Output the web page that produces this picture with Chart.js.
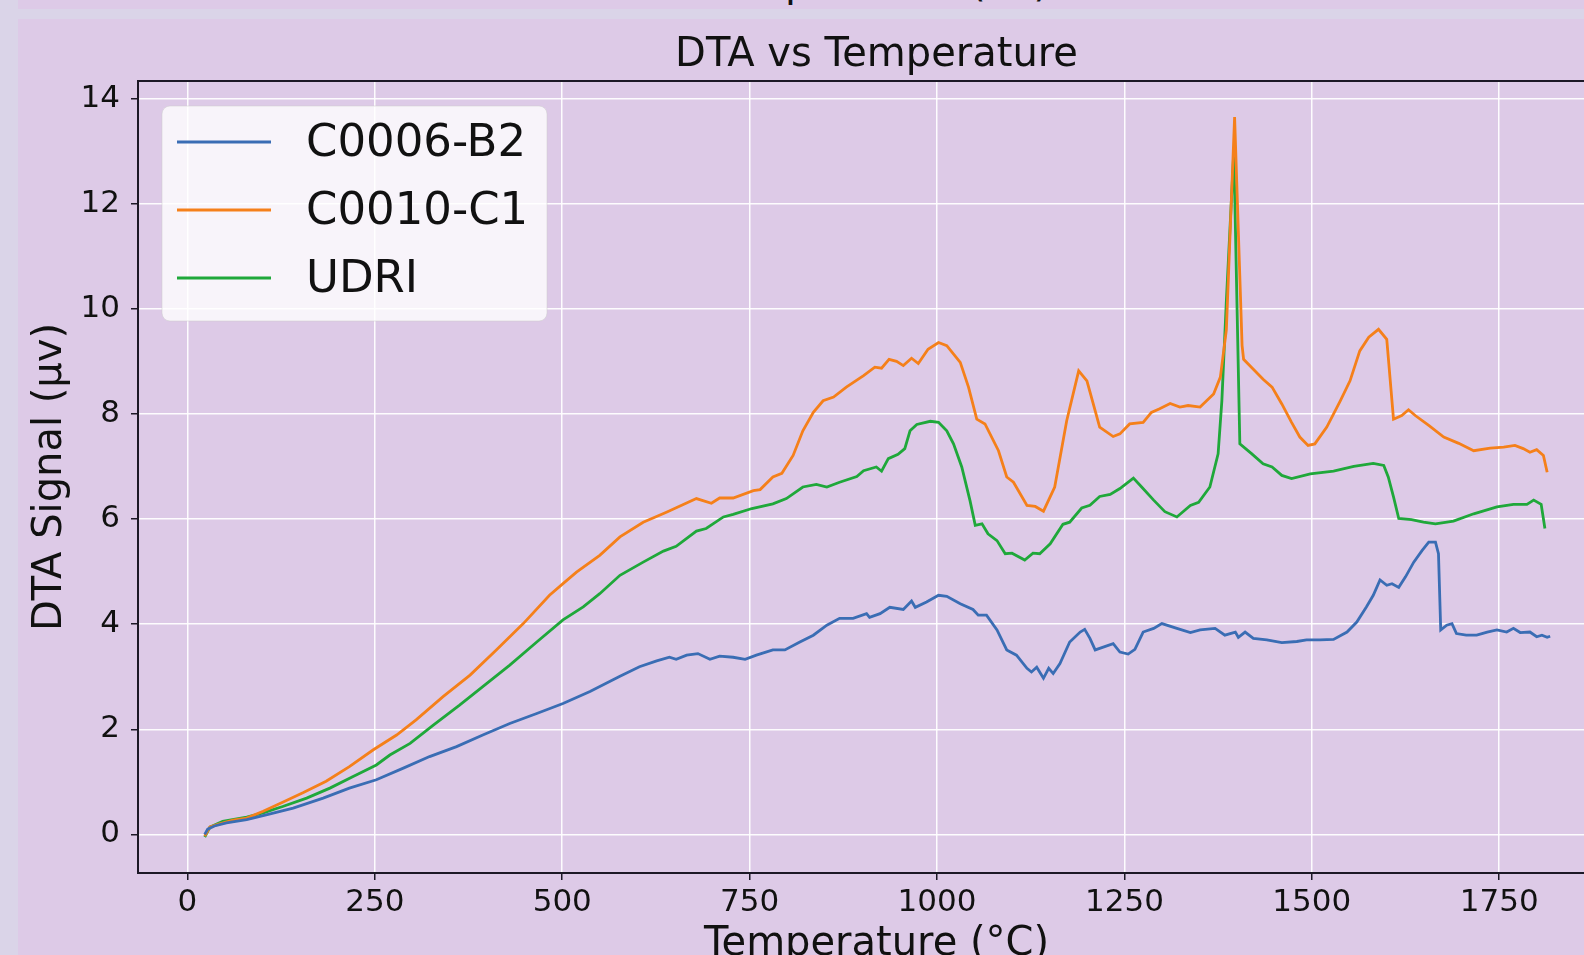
<!DOCTYPE html>
<html>
<head>
<meta charset="utf-8">
<script src="https://cdn.jsdelivr.net/npm/chart.js@4.4.0/dist/chart.umd.min.js"></script>
<style>
  html, body { margin: 0; padding: 0; }
  body {
    width: 1584px; height: 955px; overflow: hidden;
    background: #dad4e8; position: relative;
    font-family: "DejaVu Sans", sans-serif;
  }
  #prevFig {
    position: absolute; left: 18px; top: 0; width: 1566px; height: 9px;
    background: #ddcae7; overflow: hidden;
  }
  #prevFig span {
    position: absolute; left: 120px; width: 1477px; top: -38px;
    text-align: center; font-size: 40px; line-height: 40px; color: #111;
  }
  #chart {
    position: absolute; left: 18px; top: 19px;
    background: #ddcae7;
  }
</style>
</head>
<body>
<div id="prevFig"><span>Temperature (°C)</span></div>
<canvas id="chart" width="1597" height="960"></canvas>
<script>
// Данные
const seriesNames = ['C0006-B2', 'C0010-C1', 'UDRI'];
const seriesColors = ['#3a6db4', '#f5801a', '#1fa83a'];

const tempB2 = [23, 27, 36, 52, 79, 105, 141, 181, 216, 252, 288, 323, 359, 394, 430, 466, 501, 537, 577,
  603, 626, 643, 652, 666, 681, 697, 710, 728, 744, 759, 781, 797, 817, 835, 853, 870, 888, 906, 910, 924,
  937, 955, 966, 971, 986, 1002, 1013, 1031, 1048, 1055, 1066, 1080, 1093, 1106, 1120, 1126, 1133, 1142,
  1149, 1155, 1164, 1177, 1191, 1197, 1204, 1211, 1217, 1235, 1244, 1255, 1264, 1275, 1289, 1300, 1320,
  1338, 1351, 1371, 1384, 1398, 1402, 1411, 1422, 1440, 1460, 1480, 1493, 1511, 1529, 1547, 1560, 1573,
  1582, 1591, 1600, 1607, 1616, 1625, 1636, 1647, 1656, 1665, 1669, 1672, 1680, 1687, 1693, 1706, 1720,
  1734, 1747, 1760, 1769, 1778, 1791, 1800, 1807, 1814, 1818];
const dtaB2 = [0.00, 0.10, 0.16, 0.22, 0.28, 0.37, 0.50, 0.69, 0.88, 1.04, 1.26, 1.48, 1.67, 1.89, 2.11, 2.30, 2.49, 2.72, 3.01,
  3.19, 3.30, 3.37, 3.33, 3.41, 3.44, 3.33, 3.39, 3.37, 3.33, 3.41, 3.51, 3.51, 3.66, 3.79, 3.98, 4.11, 4.11, 4.20, 4.13, 4.20,
  4.32, 4.28, 4.44, 4.32, 4.42, 4.55, 4.53, 4.39, 4.28, 4.17, 4.17, 3.89, 3.51, 3.41, 3.16, 3.09, 3.18, 2.97,
  3.16, 3.06, 3.25, 3.66, 3.85, 3.90, 3.73, 3.51, 3.54, 3.63, 3.47, 3.43, 3.52, 3.85, 3.92, 4.01, 3.92,
  3.84, 3.89, 3.92, 3.79, 3.85, 3.75, 3.85, 3.73, 3.70, 3.65, 3.67, 3.70, 3.70, 3.71, 3.85, 4.04, 4.33,
  4.55, 4.84, 4.74, 4.77, 4.70, 4.90, 5.18, 5.40, 5.56, 5.56, 5.34, 3.89, 3.98, 4.01, 3.82, 3.79, 3.79,
  3.85, 3.89, 3.85, 3.92, 3.84, 3.85, 3.76, 3.79, 3.75, 3.77];

const tempC1 = [23, 30, 43, 61, 79, 101, 127, 154, 185, 216, 248, 279, 305, 341, 377, 412, 448, 483, 501, 519,
  550, 577, 608, 639, 679, 699, 710, 728, 755, 764, 781, 793, 808, 821, 835, 848, 862, 879, 902, 917, 926,
  936, 946, 955, 966, 975, 988, 1002, 1013, 1031, 1042, 1053, 1064, 1082, 1093, 1102, 1120, 1131, 1142,
  1157, 1173, 1189, 1200, 1217, 1235, 1244, 1257, 1275, 1286, 1297, 1311, 1324, 1335, 1351, 1369, 1378,
  1386, 1397, 1407, 1409, 1422, 1435, 1447, 1460, 1473, 1484, 1495, 1504, 1520, 1538, 1551, 1564, 1576,
  1589, 1600, 1609, 1620, 1629, 1638, 1656, 1676, 1696, 1716, 1738, 1756, 1771, 1782, 1791, 1800, 1809, 1814];
const dtaC1 = [-0.03, 0.14, 0.20, 0.27, 0.31, 0.44, 0.61, 0.79, 1.01, 1.29, 1.61, 1.89, 2.18, 2.62, 3.03, 3.51, 4.01, 4.55, 4.77, 4.99,
  5.31, 5.66, 5.94, 6.13, 6.39, 6.30, 6.40, 6.40, 6.54, 6.56, 6.80, 6.87, 7.21, 7.68, 8.03, 8.25, 8.32, 8.51, 8.73, 8.89, 8.87,
  9.04, 9.00, 8.92, 9.06, 8.96, 9.23, 9.36, 9.30, 8.98, 8.51, 7.90, 7.81, 7.30, 6.80, 6.70, 6.26, 6.24, 6.15,
  6.61, 7.87, 8.82, 8.63, 7.75, 7.57, 7.62, 7.81, 7.84, 8.03, 8.10, 8.20, 8.13, 8.16, 8.13, 8.38, 8.70,
  9.60, 13.65, 9.30, 9.04, 8.85, 8.66, 8.51, 8.19, 7.84, 7.56, 7.40, 7.43, 7.75, 8.25, 8.63, 9.20, 9.46,
  9.61, 9.42, 7.90, 7.97, 8.08, 7.97, 7.78, 7.56, 7.44, 7.30, 7.35, 7.37, 7.40, 7.34, 7.27, 7.32, 7.21, 6.89];

const tempUDRI = [23, 30, 47, 79, 101, 127, 159, 190, 221, 252, 270, 297, 328, 363, 399, 430, 466, 501, 528,
  550, 577, 608, 635, 652, 679, 692, 715, 728, 753, 781, 799, 821, 839, 853, 870, 893, 902, 919, 926, 935,
  948, 957, 964, 973, 991, 1002, 1013, 1022, 1033, 1044, 1051, 1060, 1068, 1080, 1091, 1100, 1117, 1128,
  1137, 1151, 1168, 1177, 1193, 1204, 1217, 1231, 1244, 1262, 1273, 1289, 1304, 1320, 1338, 1349, 1364,
  1375, 1380, 1386, 1396, 1404, 1420, 1435, 1447, 1460, 1473, 1498, 1529, 1556, 1582, 1596, 1602, 1609,
  1616, 1633, 1649, 1665, 1689, 1716, 1747, 1769, 1787, 1796, 1806, 1811];
const dtaUDRI = [-0.05, 0.14, 0.25, 0.33, 0.41, 0.53, 0.69, 0.88, 1.10, 1.32, 1.51, 1.73, 2.08, 2.46, 2.87, 3.22, 3.66, 4.08, 4.33,
  4.58, 4.93, 5.18, 5.39, 5.48, 5.77, 5.82, 6.04, 6.09, 6.20, 6.29, 6.39, 6.61, 6.66, 6.61, 6.70, 6.81, 6.92, 6.99, 6.91, 7.15,
  7.23, 7.34, 7.68, 7.80, 7.86, 7.84, 7.68, 7.43, 6.99, 6.35, 5.88, 5.91, 5.72, 5.59, 5.34, 5.35, 5.22, 5.35,
  5.34, 5.53, 5.90, 5.94, 6.21, 6.26, 6.43, 6.47, 6.58, 6.78, 6.61, 6.36, 6.14, 6.04, 6.26, 6.32, 6.61,
  7.24, 8.25, 10.15, 13.00, 7.43, 7.24, 7.05, 6.99, 6.83, 6.77, 6.86, 6.91, 7.00, 7.06, 7.02, 6.80, 6.42,
  6.01, 5.99, 5.94, 5.91, 5.96, 6.10, 6.23, 6.28, 6.28, 6.36, 6.28, 5.82];

const xTicks = [0, 250, 500, 750, 1000, 1250, 1500, 1750];
const yTicks = [0, 2, 4, 6, 8, 10, 12, 14];

const toPoints = (xs, ys) => xs.map((x, i) => ({ x: x, y: ys[i] }));

// Рамка сверху (как у matplotlib)
const topSpine = {
  id: 'topSpine',
  afterDatasetsDraw(chart) {
    const { ctx, chartArea } = chart;
    ctx.save();
    ctx.strokeStyle = '#1c1826';
    ctx.lineWidth = 2;
    ctx.beginPath();
    ctx.moveTo(chartArea.left, chartArea.top);
    ctx.lineTo(chartArea.right, chartArea.top);
    ctx.stroke();
    ctx.restore();
  }
};

// Легенда в рамке внутри области графика
const boxLegend = {
  id: 'boxLegend',
  afterDatasetsDraw(chart, args, opts) {
    const { ctx, chartArea } = chart;
    const x = chartArea.left + opts.offsetX;
    const y = chartArea.top + opts.offsetY;
    ctx.save();
    ctx.beginPath();
    ctx.roundRect(x, y, opts.width, opts.height, 8);
    ctx.fillStyle = 'rgba(255,255,255,0.8)';
    ctx.fill();
    ctx.strokeStyle = 'rgba(204,204,204,0.5)';
    ctx.lineWidth = 1;
    ctx.stroke();
    ctx.font = opts.fontSize + 'px "DejaVu Sans"';
    ctx.textBaseline = 'middle';
    ctx.fillStyle = '#111';
    chart.data.datasets.forEach((ds, i) => {
      const rowY = y + opts.firstRow + i * opts.rowGap;
      ctx.strokeStyle = ds.borderColor;
      ctx.lineWidth = ds.borderWidth;
      ctx.beginPath();
      ctx.moveTo(x + opts.lineStart, rowY);
      ctx.lineTo(x + opts.lineEnd, rowY);
      ctx.stroke();
      ctx.fillText(ds.label, x + opts.textX, rowY + 2);
    });
    ctx.restore();
  }
};

const datasets = [
  { label: seriesNames[0], data: toPoints(tempB2, dtaB2) },
  { label: seriesNames[1], data: toPoints(tempC1, dtaC1) },
  { label: seriesNames[2], data: toPoints(tempUDRI, dtaUDRI) }
].map((ds, i) => ({
  ...ds,
  borderColor: seriesColors[i],
  backgroundColor: seriesColors[i],
  borderWidth: 2.8,
  pointRadius: 0,
  tension: 0,
  fill: false
}));

new Chart(document.getElementById('chart'), {
  type: 'line',
  data: { datasets },
  plugins: [topSpine, boxLegend],
  options: {
    responsive: false,
    animation: false,
    devicePixelRatio: 1,
    layout: { padding: 0 },
    plugins: {
      legend: { display: false },
      tooltip: { enabled: false },
      title: {
        display: true,
        text: 'DTA vs Temperature',
        fullSize: false,
        color: '#111',
        font: { family: 'DejaVu Sans', size: 40, weight: 'normal' },
        padding: { top: 13, bottom: 1 }
      },
      boxLegend: {
        offsetX: 24, offsetY: 25, width: 385, height: 215,
        lineStart: 15, lineEnd: 109, textX: 144,
        firstRow: 36, rowGap: 68, fontSize: 45
      }
    },
    scales: {
      x: {
        type: 'linear',
        min: -66,
        max: 1904.5,
        afterFit: (scale) => { scale.height = 106; },
        afterBuildTicks: (scale) => { scale.ticks = xTicks.map(v => ({ value: v })); },
        ticks: {
          color: '#111',
          padding: 4,
          maxRotation: 0,
          font: { family: 'DejaVu Sans', size: 31 },
          callback: (v) => String(v)
        },
        grid: { color: 'rgba(255,255,255,0.95)', lineWidth: 1.5, tickColor: '#1c1826', tickLength: 7, tickWidth: 1.5 },
        border: { display: true, color: '#1c1826', width: 2 },
        title: {
          display: true,
          text: 'Temperature (°C)',
          color: '#111',
          font: { family: 'DejaVu Sans', size: 40 },
          padding: { top: 0, bottom: 10 }
        }
      },
      y: {
        type: 'linear',
        min: -0.735,
        max: 14.335,
        afterFit: (scale) => { scale.width = 120; },
        afterBuildTicks: (scale) => { scale.ticks = yTicks.map(v => ({ value: v })); },
        ticks: {
          color: '#111',
          padding: 11,
          font: { family: 'DejaVu Sans', size: 31 },
          callback: (v) => String(v)
        },
        grid: { color: 'rgba(255,255,255,0.95)', lineWidth: 1.5, tickColor: '#1c1826', tickLength: 7, tickWidth: 1.5 },
        border: { display: true, color: '#1c1826', width: 2 },
        title: {
          display: true,
          text: 'DTA Signal (µv)',
          color: '#111',
          font: { family: 'DejaVu Sans', size: 40 },
          padding: { top: 9, bottom: 0 }
        }
      }
    }
  }
});
</script>
</body>
</html>
